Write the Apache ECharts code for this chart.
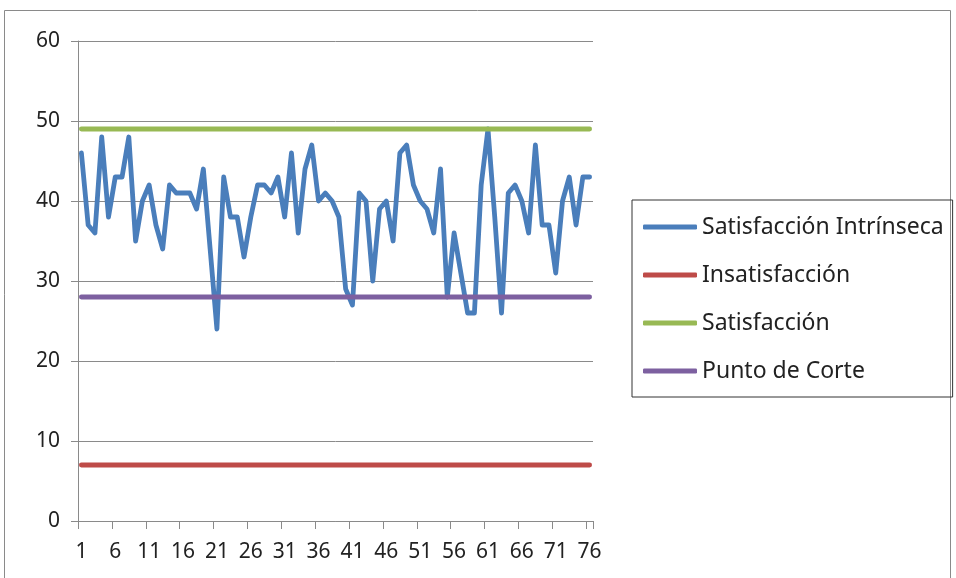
<!DOCTYPE html>
<html>
<head>
<meta charset="utf-8">
<script src="https://cdn.jsdelivr.net/npm/echarts@6/dist/echarts.min.js"></script>
<style>
html,body{margin:0;padding:0;background:#fff;}
#c{width:956px;height:578px;}
</style>
</head>
<body>
<div id="c"></div>
<script>
var categories = [];
for (var k = 1; k <= 76; k++) categories.push(String(k));
var intrinseca = [46,37,36,48,38,43,43,48,35,40,42,37,34,42,41,41,41,39,44,34,
  24,43,38,38,33,38,42,42,41,43,38,46,36,44,47,40,41,40,38,29,
  27,41,40,30,39,40,35,46,47,42,40,39,36,44,28,36,31,26,26,42,
  49,38,26,41,42,40,36,47,37,37,31,40,43,37,43,43];
var insatisfaccionLevel = 7;
var satisfaccionLevel = 49;
var puntoCorteLevel = 28;
var yTicks = [0,10,20,30,40,50,60];

function constant(v){ return categories.map(function(){ return v; }); }

var FONT = 'Noto Sans';
var chart = echarts.init(document.getElementById('c'));
function lineSeries(name, data, color){
  return {
    name: name, type: 'line', data: data, symbol: 'none', showSymbol: false,
    lineStyle: {color: color, width: 4.8, cap: 'round', join: 'round'},
    itemStyle: {color: color},
    animation: false
  };
}
chart.setOption({
  animation: false,
  backgroundColor: '#fff',
  graphic: [{
    type: 'rect', shape: {x: 4.5, y: 10.5, width: 946, height: 580},
    style: {fill: 'none', stroke: '#8a8a8a', lineWidth: 1}, silent: true
  }],
  grid: {left: 78, right: 363, top: 41, bottom: 57, containLabel: false},
  legend: {
    orient: 'vertical', left: 632, top: 200,
    padding: [15, 9, 14, 11],
    itemGap: 24, itemWidth: 54, itemHeight: 5,
    icon: 'roundRect',
    borderColor: '#333', borderWidth: 1,
    textStyle: {fontFamily: FONT, fontSize: 23, color: '#222', lineHeight: 24, padding: [0,0,0,0]},
    data: ['Satisfacción Intrínseca','Insatisfacción','Satisfacción','Punto de Corte']
  },
  xAxis: {
    type: 'category', data: categories, boundaryGap: true,
    axisLine: {lineStyle: {color: '#8a8a8a', width: 1}},
    axisTick: {show: true, interval: 4, length: 8, lineStyle: {color: '#8a8a8a'}},
    axisLabel: {interval: 4, fontFamily: FONT, fontSize: 21, color: '#222', margin: 21},
    splitLine: {show: false}
  },
  yAxis: {
    type: 'value', min: 0, max: 60, interval: 10,
    axisLine: {show: true, lineStyle: {color: '#8a8a8a', width: 1}},
    axisTick: {show: true, length: 7, lineStyle: {color: '#8a8a8a'}},
    axisLabel: {fontFamily: FONT, fontSize: 21, color: '#222', margin: 18,
      formatter: function(v){ return yTicks.indexOf(v) >= 0 ? String(v) : ''; }},
    splitLine: {show: true, lineStyle: {color: '#8a8a8a', width: 1}}
  },
  series: [
    lineSeries('Satisfacción Intrínseca', intrinseca, '#4A7EBB'),
    lineSeries('Insatisfacción', constant(insatisfaccionLevel), '#BE4B48'),
    lineSeries('Satisfacción', constant(satisfaccionLevel), '#98B954'),
    lineSeries('Punto de Corte', constant(puntoCorteLevel), '#7D60A0')
  ]
});
</script>
</body>
</html>
